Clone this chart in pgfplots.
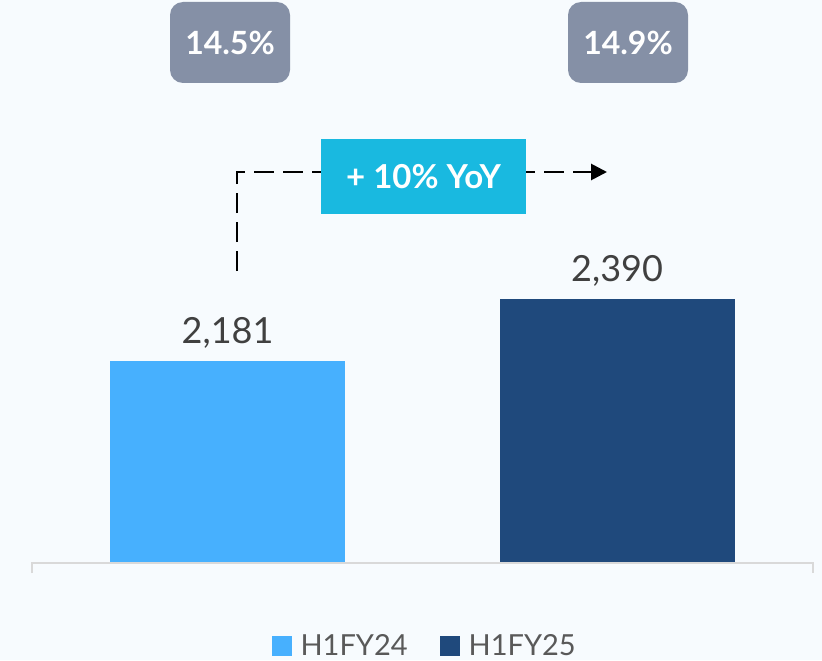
\documentclass[border=0pt]{standalone}
\usepackage{fontspec}
\setmainfont{Lato}
\usepackage{pgfplots}
\pgfplotsset{compat=1.18}
\usetikzlibrary{arrows.meta}

\definecolor{bg}{HTML}{F7FBFE}
\definecolor{c24}{HTML}{47B0FE}
\definecolor{c25}{HTML}{1F497C}
\definecolor{boxgray}{HTML}{8590A6}
\definecolor{yoy}{HTML}{19B9E0}
\definecolor{valgray}{HTML}{404040}
\definecolor{leggray}{HTML}{595959}
\definecolor{axisgray}{HTML}{D9D9D9}

\begin{document}
\begin{tikzpicture}
    % canvas: 822 x 660 px, 1 px = 0.5pt
    \fill[bg] (0,0) rectangle (411pt,330pt);
    \useasboundingbox (0,0) rectangle (411pt,330pt);

    \begin{axis}[
            at={(16pt,48.5pt)}, anchor=south west,
            width=390.5pt, height=281.5pt, scale only axis,
            hide axis, clip=false,
            ybar, bar width=117.5pt, bar shift=0pt,
            xmin=-0.502, xmax=1.503,
            ymin=1500, ymax=3397.5,
            nodes near coords,
            every node near coord/.append style={
                font=\fontsize{18pt}{20pt}\selectfont, text=valgray,
                anchor=base, yshift=8.5pt, inner sep=0pt},
            /pgf/number format/.cd, 1000 sep={,}, assume math mode=true,
            /pgfplots/.cd,
            legend style={
                at={(0.504,-0.1474)}, anchor=center,
                draw=none, fill=none, legend columns=2,
                font=\fontsize{14.5pt}{17pt}\selectfont, text=leggray,
                /tikz/every odd column/.append style={column sep=2.5pt},
                /tikz/every even column/.append style={column sep=14pt}
            },
            legend image code/.code={\fill[#1] (0pt,-5pt) rectangle (10pt,5pt);},
        ]
        \addplot[fill=c24, draw=none] coordinates {(0,2181)};
        \addplot[fill=c25, draw=none] coordinates {(1,2390)};
        \legend{H1FY24, H1FY25}

        \coordinate (bl) at (rel axis cs:0,0);
        \coordinate (br) at (rel axis cs:1,0);
    \end{axis}
    \draw[axisgray, line width=1.2pt]
        ([yshift=-5pt]bl) -- (bl) -- (br) -- ([yshift=-5pt]br);

    % annotations, in px of the canvas
    \begin{scope}[x=0.5pt, y=-0.5pt, shift={(0,330pt)}]
        \fill[boxgray, rounded corners=6.5pt] (170,2) rectangle (290,83);
        \node[text=white, font=\bfseries\fontsize{16pt}{18pt}\selectfont] at (230,43) {14.5\%};
        \fill[boxgray, rounded corners=6.5pt] (568,2) rectangle (688,83);
        \node[text=white, font=\bfseries\fontsize{16pt}{18pt}\selectfont] at (628,43) {14.9\%};

        \draw[black, line width=1.4pt, dash pattern=on 10pt off 4.5pt,
            -{Triangle[length=8pt,width=8pt]}]
            (237,271) -- (237,172) -- (607,172);
        \fill[yoy] (321,139) rectangle (526,214);
        \node[text=white, font=\bfseries\fontsize{16.5pt}{18pt}\selectfont] at (423.5,177) {+ 10\% YoY};
    \end{scope}
\end{tikzpicture}
\end{document}
